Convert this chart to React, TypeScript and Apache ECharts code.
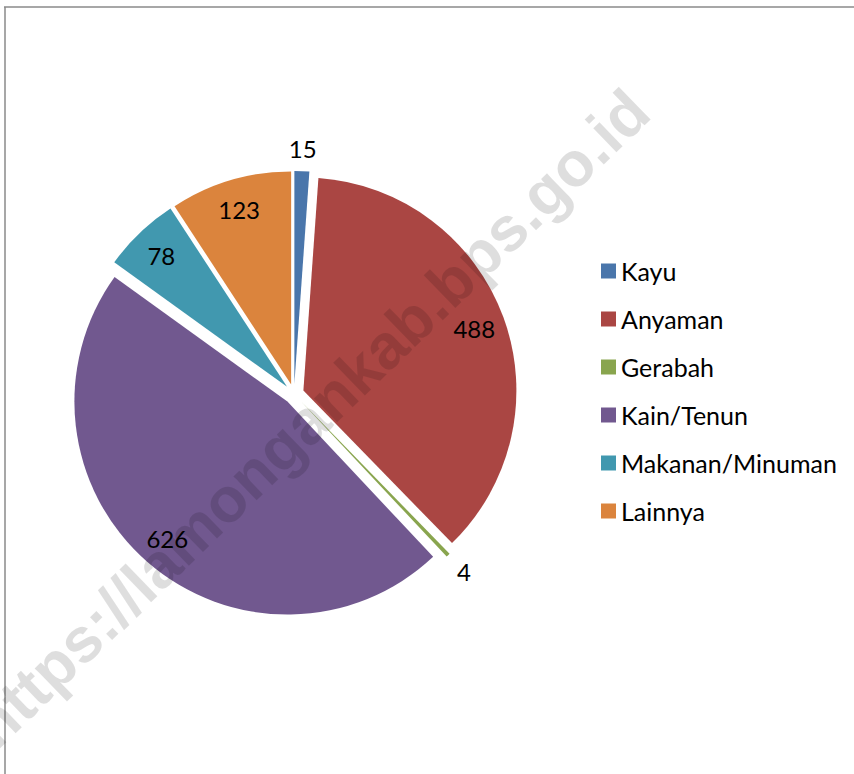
import React, { useEffect, useRef } from "react";
import * as echarts from "echarts";

const categories = ["Kayu", "Anyaman", "Gerabah", "Kain/Tenun", "Makanan/Minuman", "Lainnya"];
const values = [15, 488, 4, 626, 78, 123];
const colors = ["#4A76AB", "#AA4643", "#89A54E", "#71588F", "#4198AF", "#DB843D"];
const outsideLabelled = ["Kayu", "Gerabah"];
const watermark = "https://lamongankab.bps.go.id";

const FONT = "Lato, 'Noto Sans', sans-serif";

export default function App() {
  const ref = useRef<HTMLDivElement>(null);
  useEffect(() => {
    if (!ref.current) return;
    const chart = echarts.init(ref.current, undefined, { renderer: "svg" });
    const center = [294, 394];
    const R = 213;
    const offset = 10;
    const mainData = categories.map((c, i) => ({
      name: c,
      value: values[i],
      selected: true,
      itemStyle: { color: colors[i] },
    }));
    const innerLabelData = categories.map((c, i) => ({
      name: c,
      value: values[i],
      selected: true,
      label: { show: !outsideLabelled.includes(c) },
    }));
    const outerLabelData = categories.map((c, i) => ({
      name: c,
      value: values[i],
      selected: true,
      label: { show: outsideLabelled.includes(c) },
    }));
    const commonLabelSeries = {
      type: "pie",
      center,
      startAngle: 90,
      clockwise: true,
      selectedMode: "multiple",
      selectedOffset: offset,
      silent: true,
      avoidLabelOverlap: false,
      itemStyle: { color: "rgba(0,0,0,0)", borderWidth: 0 },
      labelLine: { show: false },
      emphasis: { disabled: true },
      label: {
        position: "inside",
        formatter: "{c}",
        color: "#000",
        fontSize: 24,
        fontFamily: FONT,
      },
    };
    chart.setOption({
      animation: false,
      legend: {
        orient: "vertical",
        left: 596,
        top: 252,
        icon: "rect",
        itemWidth: 15,
        itemHeight: 15,
        itemGap: 20,
        selectedMode: false,
        textStyle: { fontSize: 25, lineHeight: 28, color: "#000", fontFamily: FONT },
        data: categories.map((c, i) => ({ name: c, itemStyle: { color: colors[i] } })),
      },
      graphic: [
        { type: "line", shape: { x1: 4, y1: 7, x2: 854, y2: 7 }, style: { stroke: "#8a8a8a", lineWidth: 1.5 }, z: 0 },
        { type: "line", shape: { x1: 5, y1: 7, x2: 5, y2: 774 }, style: { stroke: "#8a8a8a", lineWidth: 1.5 }, z: 0 },
        {
          type: "text",
          x: 310,
          y: 418,
          rotation: (44 * Math.PI) / 180,
          z: 100,
          silent: true,
          style: {
            text: watermark,
            fontSize: 63,
            fontWeight: "bold",
            fontFamily: "'Liberation Sans', Arial, sans-serif",
            fill: "rgba(0,0,0,0.13)",
            align: "center",
            verticalAlign: "middle",
          },
        },
      ],
      series: [
        {
          type: "pie",
          center,
          radius: [0, R],
          startAngle: 90,
          clockwise: true,
          selectedMode: "multiple",
          selectedOffset: offset,
          avoidLabelOverlap: false,
          label: { show: false },
          labelLine: { show: false },
          emphasis: { disabled: true },
          itemStyle: { borderWidth: 0 },
          data: mainData,
        },
        { ...commonLabelSeries, radius: [145, R], data: innerLabelData },
        { ...commonLabelSeries, radius: [R, 253], data: outerLabelData },
      ],
    });
    return () => chart.dispose();
  }, []);
  return (
    <div
      ref={ref}
      style={{ position: "absolute", left: 0, top: 0, width: 854, height: 774, background: "#fff" }}
    />
  );
}
